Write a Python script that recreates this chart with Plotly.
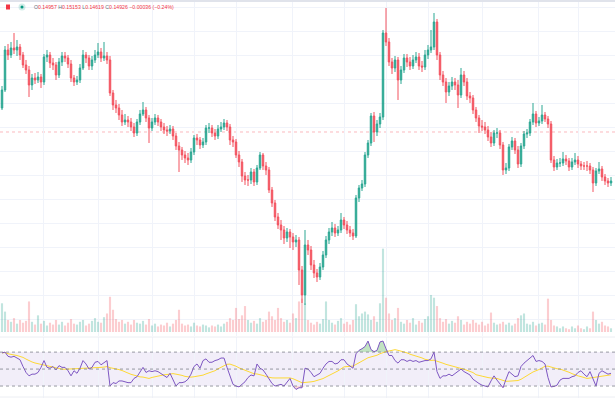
import plotly.graph_objects as go
import pandas as pd
import numpy as np

# ---------------- data ----------------
first_open = 0.1644
close = [
    0.1680, 0.1760, 0.1750, 0.1764, 0.1760, 0.1766, 0.1750, 0.1730, 0.1720, 0.1690,
    0.1704, 0.1700, 0.1706, 0.1696, 0.1746, 0.1750, 0.1734, 0.1730, 0.1710, 0.1736,
    0.1748, 0.1744, 0.1732, 0.1704, 0.1696, 0.1700, 0.1724, 0.1750, 0.1744, 0.1728,
    0.1740, 0.1750, 0.1756, 0.1744, 0.1748, 0.1740, 0.1674, 0.1650, 0.1644, 0.1630,
    0.1616, 0.1620, 0.1616, 0.1606, 0.1594, 0.1616, 0.1632, 0.1640, 0.1624, 0.1604,
    0.1616, 0.1624, 0.1616, 0.1606, 0.1600, 0.1598, 0.1602, 0.1588, 0.1568, 0.1560,
    0.1550, 0.1544, 0.1540, 0.1556, 0.1584, 0.1580, 0.1570, 0.1576, 0.1604, 0.1604,
    0.1594, 0.1588, 0.1602, 0.1606, 0.1614, 0.1606, 0.1580, 0.1576, 0.1550, 0.1536,
    0.1508, 0.1500, 0.1500, 0.1516, 0.1496, 0.1524, 0.1550, 0.1528, 0.1520, 0.1480,
    0.1454, 0.1426, 0.1410, 0.1400, 0.1384, 0.1396, 0.1386, 0.1376, 0.1380, 0.1320,
    0.1270, 0.1370, 0.1360, 0.1330, 0.1314, 0.1306, 0.1326, 0.1350, 0.1380, 0.1396,
    0.1404, 0.1394, 0.1400, 0.1420, 0.1410, 0.1400, 0.1394, 0.1388, 0.1464, 0.1484,
    0.1492, 0.1550, 0.1574, 0.1628, 0.1596, 0.1612, 0.1626, 0.1794, 0.1776, 0.1736,
    0.1724, 0.1740, 0.1700, 0.1720, 0.1744, 0.1736, 0.1728, 0.1740, 0.1746, 0.1728,
    0.1726, 0.1750, 0.1760, 0.1766, 0.1816, 0.1750, 0.1710, 0.1696, 0.1676, 0.1688,
    0.1696, 0.1690, 0.1670, 0.1710, 0.1696, 0.1668, 0.1664, 0.1640, 0.1624, 0.1608,
    0.1606, 0.1600, 0.1586, 0.1574, 0.1594, 0.1594, 0.1570, 0.1520, 0.1524, 0.1566,
    0.1578, 0.1560, 0.1532, 0.1568, 0.1592, 0.1594, 0.1616, 0.1632, 0.1614, 0.1618,
    0.1630, 0.1622, 0.1612, 0.1540, 0.1526, 0.1534, 0.1534, 0.1542, 0.1538, 0.1526,
    0.1536, 0.1540, 0.1532, 0.1528, 0.1528, 0.1528, 0.1520, 0.1494, 0.1518, 0.1522,
    0.1506, 0.1498, 0.1494, 0.1498,
]
high = [
    0.1688, 0.1768, 0.1772, 0.1776, 0.1794, 0.1780, 0.1772, 0.1756, 0.1740, 0.1728,
    0.1712, 0.1714, 0.1716, 0.1712, 0.1752, 0.1760, 0.1756, 0.1744, 0.1736, 0.1744,
    0.1756, 0.1756, 0.1750, 0.1740, 0.1710, 0.1708, 0.1732, 0.1760, 0.1756, 0.1750,
    0.1748, 0.1760, 0.1774, 0.1764, 0.1776, 0.1756, 0.1748, 0.1680, 0.1660, 0.1652,
    0.1640, 0.1632, 0.1628, 0.1624, 0.1614, 0.1622, 0.1640, 0.1656, 0.1646, 0.1630,
    0.1624, 0.1632, 0.1630, 0.1622, 0.1614, 0.1608, 0.1610, 0.1608, 0.1594, 0.1576,
    0.1566, 0.1558, 0.1554, 0.1564, 0.1590, 0.1592, 0.1586, 0.1584, 0.1610, 0.1614,
    0.1610, 0.1602, 0.1610, 0.1616, 0.1622, 0.1620, 0.1612, 0.1588, 0.1582, 0.1558,
    0.1542, 0.1516, 0.1510, 0.1524, 0.1522, 0.1530, 0.1556, 0.1554, 0.1536, 0.1526,
    0.1486, 0.1460, 0.1434, 0.1420, 0.1408, 0.1404, 0.1402, 0.1394, 0.1390, 0.1386,
    0.1328, 0.1400, 0.1380, 0.1368, 0.1340, 0.1322, 0.1334, 0.1358, 0.1388, 0.1404,
    0.1416, 0.1412, 0.1408, 0.1434, 0.1426, 0.1418, 0.1408, 0.1402, 0.1470, 0.1490,
    0.1500, 0.1556, 0.1580, 0.1634, 0.1636, 0.1620, 0.1634, 0.1800, 0.1844, 0.1784,
    0.1744, 0.1748, 0.1746, 0.1728, 0.1752, 0.1752, 0.1746, 0.1750, 0.1756, 0.1754,
    0.1738, 0.1760, 0.1770, 0.1800, 0.1834, 0.1822, 0.1756, 0.1718, 0.1704, 0.1696,
    0.1706, 0.1704, 0.1700, 0.1724, 0.1718, 0.1704, 0.1676, 0.1670, 0.1646, 0.1630,
    0.1620, 0.1616, 0.1608, 0.1596, 0.1600, 0.1604, 0.1600, 0.1576, 0.1534, 0.1572,
    0.1586, 0.1584, 0.1568, 0.1574, 0.1598, 0.1602, 0.1622, 0.1654, 0.1638, 0.1626,
    0.1650, 0.1636, 0.1628, 0.1618, 0.1548, 0.1542, 0.1544, 0.1556, 0.1550, 0.1544,
    0.1544, 0.1554, 0.1548, 0.1538, 0.1536, 0.1538, 0.1534, 0.1526, 0.1524, 0.1536,
    0.1528, 0.1512, 0.1504, 0.1506,
]
low = [
    0.1640, 0.1676, 0.1740, 0.1744, 0.1752, 0.1748, 0.1740, 0.1724, 0.1712, 0.1666,
    0.1680, 0.1692, 0.1694, 0.1684, 0.1690, 0.1736, 0.1724, 0.1720, 0.1700, 0.1704,
    0.1728, 0.1736, 0.1724, 0.1696, 0.1688, 0.1690, 0.1694, 0.1720, 0.1734, 0.1720,
    0.1720, 0.1734, 0.1744, 0.1736, 0.1738, 0.1732, 0.1668, 0.1640, 0.1634, 0.1620,
    0.1608, 0.1610, 0.1606, 0.1598, 0.1586, 0.1588, 0.1610, 0.1628, 0.1616, 0.1574,
    0.1598, 0.1610, 0.1608, 0.1598, 0.1592, 0.1588, 0.1592, 0.1580, 0.1560, 0.1516,
    0.1540, 0.1534, 0.1530, 0.1534, 0.1550, 0.1570, 0.1562, 0.1564, 0.1570, 0.1594,
    0.1586, 0.1580, 0.1582, 0.1596, 0.1600, 0.1598, 0.1570, 0.1566, 0.1544, 0.1526,
    0.1496, 0.1490, 0.1488, 0.1492, 0.1488, 0.1490, 0.1520, 0.1520, 0.1510, 0.1474,
    0.1446, 0.1418, 0.1402, 0.1380, 0.1372, 0.1376, 0.1364, 0.1360, 0.1366, 0.1290,
    0.1254, 0.1250, 0.1350, 0.1320, 0.1304, 0.1296, 0.1300, 0.1320, 0.1344, 0.1372,
    0.1388, 0.1386, 0.1388, 0.1394, 0.1402, 0.1392, 0.1386, 0.1380, 0.1384, 0.1456,
    0.1478, 0.1486, 0.1544, 0.1568, 0.1576, 0.1588, 0.1604, 0.1620, 0.1768, 0.1728,
    0.1712, 0.1716, 0.1660, 0.1692, 0.1714, 0.1726, 0.1720, 0.1722, 0.1734, 0.1720,
    0.1716, 0.1720, 0.1742, 0.1754, 0.1760, 0.1740, 0.1700, 0.1688, 0.1654, 0.1668,
    0.1680, 0.1680, 0.1644, 0.1664, 0.1688, 0.1660, 0.1654, 0.1632, 0.1616, 0.1594,
    0.1598, 0.1592, 0.1578, 0.1566, 0.1568, 0.1584, 0.1562, 0.1510, 0.1512, 0.1518,
    0.1560, 0.1552, 0.1524, 0.1526, 0.1562, 0.1584, 0.1588, 0.1610, 0.1606, 0.1608,
    0.1612, 0.1616, 0.1604, 0.1534, 0.1518, 0.1520, 0.1526, 0.1528, 0.1530, 0.1518,
    0.1520, 0.1530, 0.1524, 0.1520, 0.1520, 0.1518, 0.1512, 0.1476, 0.1488, 0.1512,
    0.1498, 0.1490, 0.1486, 0.1488,
]
volume = [
    31, 22, 13, 11, 15, 9, 13, 10, 12, 33,
    11, 8, 18, 9, 12, 7, 10, 8, 13, 8,
    11, 7, 10, 14, 9, 8, 11, 13, 7, 9,
    12, 15, 11, 10, 16, 20, 38, 24, 14, 11,
    13, 9, 11, 8, 13, 10, 9, 12, 8, 14,
    7, 9, 6, 8, 7, 10, 6, 9, 13, 24,
    9, 7, 8, 6, 10, 7, 6, 8, 7, 5,
    7, 6, 8, 6, 9, 11, 15, 13, 26, 14,
    18, 28, 13, 10, 12, 9, 15, 11, 13, 22,
    17, 13, 26, 15, 11, 13, 10, 20, 15, 33,
    36, 31, 13, 10, 8, 11, 9, 14, 33, 13,
    10, 8, 12, 15, 9, 11, 8, 13, 30, 17,
    20, 22, 19, 13, 17, 11, 31, 90, 37, 20,
    13, 15, 26, 11, 9, 13, 10, 15, 8, 12,
    10, 14, 17, 40, 37, 28, 15, 11, 14, 9,
    12, 10, 17, 13, 8, 11, 9, 13, 10, 8,
    11, 7, 9, 21, 10, 8, 9, 11, 8, 10,
    7, 9, 15, 18, 20, 9, 8, 11, 7, 9,
    10, 8, 36, 13, 7, 6, 4, 6, 4, 3,
    6, 4, 7, 4, 3, 6, 4, 22, 13, 9,
    11, 7, 6, 4,
]
rsi = [
    69, 70, 65, 64, 65, 63, 61, 53, 46, 42,
    44, 44, 46, 52, 60, 52, 51, 53, 49, 54,
    52, 52, 48, 42, 48, 45, 51, 60, 56, 50,
    52, 58, 59, 55, 57, 60, 30, 34, 33, 36,
    36, 35, 34, 34, 39, 41, 47, 52, 46, 48,
    47, 48, 47, 45, 42, 40, 45, 38, 30, 34,
    34, 35, 38, 44, 53, 56, 51, 60, 62, 58,
    58, 60, 61, 63, 63, 52, 41, 32, 30, 29,
    32, 35, 40, 43, 42, 56, 51, 49, 44, 39,
    33, 30, 31, 32, 30, 35, 39, 30, 26, 28,
    28, 51, 50, 46, 41, 43, 45, 51, 56, 59,
    59, 56, 57, 61, 61, 56, 53, 51, 68, 72,
    74, 76.5, 83, 73, 70.5, 72, 82, 83, 74, 66,
    66, 60, 57, 61, 61, 59, 60.6, 59, 60, 58,
    59, 60, 60, 62, 70, 47, 39, 42, 42, 44,
    42, 45, 48, 50, 47, 45, 43, 38, 35, 33,
    31, 30, 29, 36, 42, 37, 33, 28, 38, 47,
    44, 41, 42, 53, 57, 60, 64, 66, 59, 60,
    59, 56, 40, 29, 29.5, 31, 37, 39, 39, 39,
    41, 42, 46, 48, 44, 41, 47, 38, 30, 45,
    48, 46, 44, 45,
]
ref_price = 0.1596                    # dashed reference price line
time_ticks = [13.67, 32.0, 50.33, 64.33, 78.33, 96.67, 114.33, 128.0, 142.0, 160.33, 178.67, 192.33]
legend_vals = {"O": "0.14957", "H": "0.15153", "L": "0.14619", "C": "0.14926"}
legend_chg = "\u22120.00036 (\u22120.24%)"
rsi_levels = [70, 50, 30]
rsi_ma_len = 14

# ---------------- derived ----------------
n = len(close)
idx = list(range(n))
open_ = [first_open] + close[:-1]
up = [c >= o for o, c in zip(open_, close)]

UP = "#089981"
DN = "#f23645"
vol_colors = ["rgba(8,153,129,0.25)" if u else "rgba(242,54,69,0.25)" for u in up]

rsi_arr = np.array(rsi, dtype=float)
rsi_ma = pd.Series(rsi_arr).rolling(rsi_ma_len, min_periods=1).mean().values
rsi_ob = np.maximum(rsi_arr, 70)
rsi_os = np.minimum(rsi_arr, 30)

# ---------------- figure ----------------
fig = go.Figure()

# volume on the base axis (y), price candles overlaid on top (y2)
fig.add_trace(go.Bar(x=idx, y=volume, marker=dict(color=vol_colors, line=dict(width=0)),
                     xaxis="x", yaxis="y", width=0.7, hoverinfo="skip"))

fig.add_trace(go.Candlestick(
    x=idx, open=open_, high=high, low=low, close=close,
    increasing=dict(line=dict(color=UP, width=1), fillcolor=UP),
    decreasing=dict(line=dict(color=DN, width=1), fillcolor=DN),
    whiskerwidth=0, xaxis="x", yaxis="y2", hoverinfo="skip", opacity=0.85))

# RSI pane
fig.add_trace(go.Scatter(x=idx, y=[70] * n, mode="lines", line=dict(width=0),
                         xaxis="x2", yaxis="y3", hoverinfo="skip"))
fig.add_trace(go.Scatter(x=idx, y=rsi_ob, mode="lines", line=dict(width=0),
                         fill="tonexty", fillcolor="rgba(76,175,80,0.35)",
                         xaxis="x2", yaxis="y3", hoverinfo="skip"))
fig.add_trace(go.Scatter(x=idx, y=[30] * n, mode="lines", line=dict(width=0),
                         xaxis="x2", yaxis="y3", hoverinfo="skip"))
fig.add_trace(go.Scatter(x=idx, y=rsi_os, mode="lines", line=dict(width=0),
                         fill="tonexty", fillcolor="rgba(242,54,69,0.2)",
                         xaxis="x2", yaxis="y3", hoverinfo="skip"))
fig.add_trace(go.Scatter(x=idx, y=rsi_ma, mode="lines", line=dict(color="#fdd835", width=1),
                         xaxis="x2", yaxis="y3", hoverinfo="skip"))
fig.add_trace(go.Scatter(x=idx, y=rsi_arr, mode="lines", line=dict(color="#7e57c2", width=1),
                         xaxis="x2", yaxis="y3", hoverinfo="skip"))

xr = [-0.667, 204.333]
grid = "#f0f3fa"
fig.update_layout(
    width=615, height=399,
    margin=dict(l=0, r=0, t=0, b=0),
    paper_bgcolor="white", plot_bgcolor="white",
    showlegend=False,
    hovermode=False,
    xaxis=dict(domain=[0, 1], range=xr, anchor="y", tickvals=time_ticks, showticklabels=False,
               showgrid=True, gridcolor=grid, gridwidth=1, zeroline=False,
               rangeslider=dict(visible=False), showline=False, ticks=""),
    xaxis2=dict(domain=[0, 1], range=xr, anchor="y3", tickvals=time_ticks, showticklabels=False,
                showgrid=True, gridcolor=grid, gridwidth=1, zeroline=False, showline=False, ticks=""),
    yaxis=dict(domain=[0.1579, 0.995], range=[-4.32, 356.4], showgrid=False, zeroline=False,
               showticklabels=False, ticks=""),
    yaxis2=dict(overlaying="y", range=[0.1188, 0.1856], tick0=0.1844, dtick=0.0048,
                showticklabels=False, showgrid=True, gridcolor=grid, zeroline=False, ticks=""),
    yaxis3=dict(domain=[0.0025, 0.155], range=[15.9, 87.6], showticklabels=False,
                showgrid=False, zeroline=False, ticks=""),
)

shapes = []
shapes.append(dict(type="rect", xref="x2 domain", yref="y3", x0=0, x1=1, y0=30, y1=70,
                   fillcolor="rgba(126,87,194,0.10)", line=dict(width=0), layer="below"))
for lv in rsi_levels:
    shapes.append(dict(type="line", xref="x2 domain", yref="y3", x0=0, x1=1, y0=lv, y1=lv,
                       line=dict(color="rgba(120,123,134,0.75)", width=1, dash="3px,3px"), layer="above"))
shapes.append(dict(type="line", xref="x domain", yref="y2", x0=0, x1=1, y0=ref_price, y1=ref_price,
                   line=dict(color="rgba(242,54,69,0.35)", width=1, dash="3px,3px"), layer="below"))
shapes.append(dict(type="rect", xref="paper", yref="paper", x0=0, x1=1, y0=1 - 2 / 399, y1=1,
                   fillcolor="#e0e3eb", line=dict(width=0)))
shapes.append(dict(type="line", xref="paper", yref="paper", x0=0, x1=1, y0=1 - 337 / 399, y1=1 - 337 / 399,
                   line=dict(color="#eceef3", width=1)))
shapes.append(dict(type="line", xref="paper", yref="paper", x0=0, x1=1, y0=1 - 397 / 399, y1=1 - 397 / 399,
                   line=dict(color="#eceef3", width=1)))
shapes.append(dict(type="rect", xref="paper", yref="paper", x0=6 / 615, x1=10 / 615,
                   y0=1 - 9.5 / 399, y1=1 - 4.5 / 399, fillcolor=DN, line=dict(width=0)))
shapes.append(dict(type="circle", xref="paper", yref="paper", x0=18.5 / 615, x1=25.5 / 615,
                   y0=1 - 10.5 / 399, y1=1 - 3.5 / 399, fillcolor="rgba(8,153,129,0.18)", line=dict(width=0)))
shapes.append(dict(type="circle", xref="paper", yref="paper", x0=20.5 / 615, x1=23.5 / 615,
                   y0=1 - 8.5 / 399, y1=1 - 5.5 / 399, fillcolor=UP, line=dict(width=0)))
fig.update_layout(shapes=shapes)

lab = "#6a6d78"
parts = []
for k, v in legend_vals.items():
    parts.append(f'<span style="color:{lab}">{k}</span><span style="color:{DN}">{v}</span>')
txt = " ".join(parts) + f' <span style="color:{DN}">{legend_chg}</span>'
fig.add_annotation(xref="paper", yref="paper", x=32 / 615, y=1 - 7 / 399, xanchor="left", yanchor="middle",
                   text=txt, showarrow=False, font=dict(family="Liberation Sans, Arial", size=5.2, color=DN))

fig.write_html("out.html", config={"displayModeBar": False, "staticPlot": True},
               post_script="document.body.style.margin='0';document.body.style.overflow='hidden';")
